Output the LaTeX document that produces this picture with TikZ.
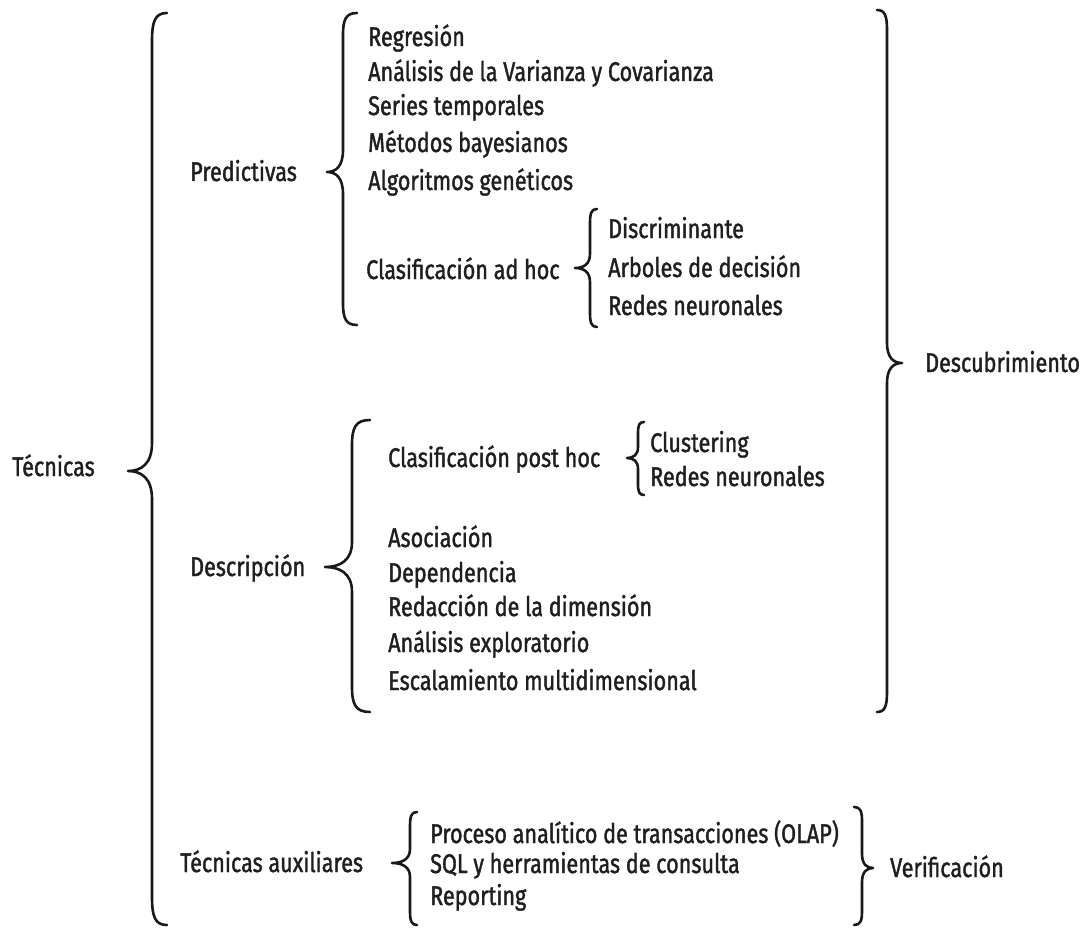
\documentclass[tikz,border=0pt]{standalone}
\usepackage{fontspec}
\setmainfont{Fira Sans}[FakeStretch=0.8, FakeBold=1.4]
\begin{document}
% left curly brace: line x, top y, tip y, bottom y, end curl, tip depth, bend radius
\newcommand{\leftcurl}[7]{%
  \draw[bracel] ({#1+#5},#2) .. controls ({#1+0.2*#5},#2) and (#1,{#2+0.3*#7}) .. (#1,{#2+#7})
    -- (#1,{#3-#7}) .. controls (#1,{#3-0.25*#7}) and ({#1-0.45*#6},#3) .. ({#1-#6},#3)
    .. controls ({#1-0.45*#6},#3) and (#1,{#3+0.25*#7}) .. (#1,{#3+#7})
    -- (#1,{#4-#7}) .. controls (#1,{#4-0.3*#7}) and ({#1+0.2*#5},#4) .. ({#1+#5},#4);}
% right curly brace, mirrored
\newcommand{\rightcurl}[7]{%
  \draw[bracel] ({#1-#5},#2) .. controls ({#1-0.2*#5},#2) and (#1,{#2+0.3*#7}) .. (#1,{#2+#7})
    -- (#1,{#3-#7}) .. controls (#1,{#3-0.25*#7}) and ({#1+0.45*#6},#3) .. ({#1+#6},#3)
    .. controls ({#1+0.45*#6},#3) and (#1,{#3+0.25*#7}) .. (#1,{#3+#7})
    -- (#1,{#4-#7}) .. controls (#1,{#4-0.3*#7}) and ({#1-0.2*#5},#4) .. ({#1-#5},#4);}
\begin{tikzpicture}[x=1pt,y=-1pt,
  bracel/.style={line width=2.6pt, line cap=round, line join=round, black!90},
  lbl/.style={anchor=base west, inner sep=0pt, text=black!88,
    font=\fontsize{27}{32}\selectfont}]
\useasboundingbox (0,0) rectangle (1091,928);
\fill[white] (0,0) rectangle (1091,928);

% root
\node[lbl] (tec) at (12,476) {Técnicas};

% predictive branch
\node[lbl] (pred) at (190,181) {Predictivas};
\node[lbl] (p1) at (368,46) {Regresión};
\node[lbl] (p2) at (368,81) {Análisis de la Varianza y Covarianza};
\node[lbl] (p3) at (368,115) {Series temporales};
\node[lbl] (p4) at (368,152) {Métodos bayesianos};
\node[lbl] (p5) at (368,190) {Algoritmos genéticos};
\node[lbl] (p6) at (366,279) {Clasificación ad hoc};
\node[lbl] (c1) at (608,238) {Discriminante};
\node[lbl] (c2) at (608,277) {Arboles de decisión};
\node[lbl] (c3) at (608,315) {Redes neuronales};

% descriptive branch
\node[lbl] (desc) at (190,576) {Descripción};
\node[lbl] (d1) at (388,467) {Clasificación post hoc};
\node[lbl] (k1) at (650,452) {Clustering};
\node[lbl] (k2) at (650,486) {Redes neuronales};
\node[lbl] (d2) at (388,547) {Asociación};
\node[lbl] (d3) at (388,582) {Dependencia};
\node[lbl] (d4) at (388,616) {Redacción de la dimensión};
\node[lbl] (d5) at (388,652) {Análisis exploratorio};
\node[lbl] (d6) at (388,690) {Escalamiento multidimensional};

\node[lbl] (desb) at (925,372) {Descubrimiento};

% auxiliary techniques
\node[lbl] (aux) at (180,872) {Técnicas auxiliares};
\node[lbl] (a1) at (430,843) {Proceso analítico de transacciones (OLAP)};
\node[lbl] (a2) at (430,873) {SQL y herramientas de consulta};
\node[lbl] (a3) at (430,905) {Reporting};
\node[lbl] (ver) at (890,877) {Verificación};

% braces
\leftcurl{152}{13}{471}{925}{15}{24}{28}
\leftcurl{343}{13}{172}{325}{14}{16}{22}
\leftcurl{590}{209}{268}{327}{7}{15}{14}
\leftcurl{352}{420}{567}{712}{18}{27}{25}
\leftcurl{638}{422}{458}{495}{6}{11}{11}
\leftcurl{410}{812}{863}{925}{7}{18}{14}
\rightcurl{887}{10}{363}{712}{10}{15}{20}
\rightcurl{862}{807}{868}{925}{8}{11}{14}
\end{tikzpicture}
\end{document}
